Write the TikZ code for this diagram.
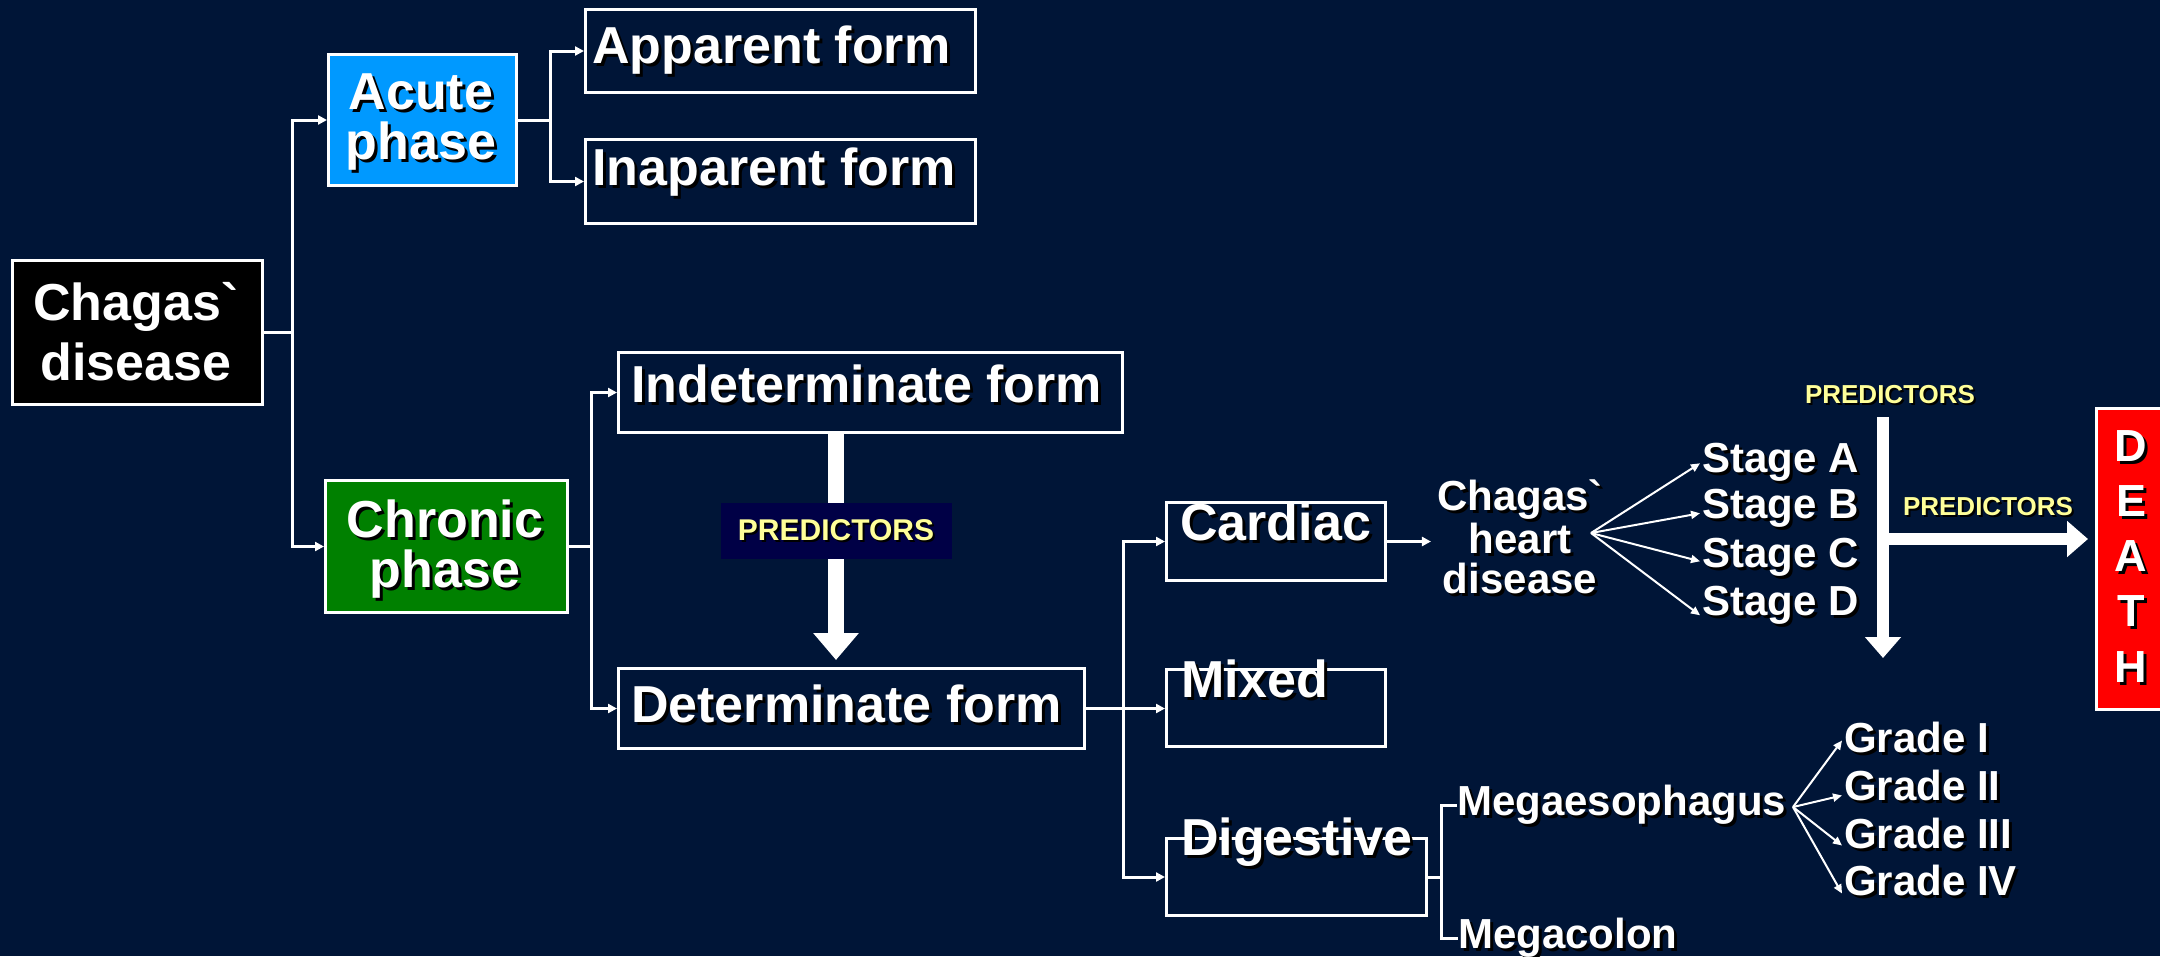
\documentclass[tikz,border=0pt]{standalone}
\usepackage{fontspec}
\newfontfamily\af{Liberation Sans}
\usetikzlibrary{arrows.meta}
\definecolor{bg}{RGB}{0,21,55}
\definecolor{acuteblue}{RGB}{0,153,255}
\definecolor{chrongreen}{RGB}{0,128,0}
\definecolor{predfill}{RGB}{0,0,70}
\definecolor{predyellow}{RGB}{255,255,153}
\definecolor{deathred}{RGB}{255,0,0}
\newcommand\shd[2][3pt]{\makebox[0pt][l]{\hspace{#1}\raisebox{-#1}{\color{black}#2}}#2}
\begin{document}
\begin{tikzpicture}[x=1pt,y=-1pt,
 box/.style={draw=white,line width=3pt,inner sep=0pt,anchor=north west},
 txt/.style={text=white,inner sep=0pt},
 big/.style={txt,font=\af\bfseries\fontsize{52}{50}\selectfont},
 mid/.style={txt,font=\af\bfseries\fontsize{42}{40}\selectfont},
 predtxt/.style={text=predyellow,inner sep=0pt,font=\af\bfseries\fontsize{26}{30}\selectfont},
 conn/.style={draw=white,line width=3pt},
 arr/.style={conn,-{Triangle[length=9pt,width=9pt]}},
 fan/.style={draw=white,line width=2pt,-{Triangle[length=9pt,width=8pt]}},
 fatA/.style={draw=white,line width=16pt,-{Triangle[length=27pt,width=44pt]}},
 fatB/.style={draw=white,line width=12pt,-{Triangle[length=21pt,width=35pt]}}]
\useasboundingbox (0,0) rectangle (2160,956);
\fill[bg] (0,0) rectangle (2160,956);
% boxes
\node[box,fill=black,minimum width=250pt,minimum height=144pt] (chagasbox) at (11,259) {};
\node[box,fill=acuteblue,minimum width=188pt,minimum height=131pt] (acutebox) at (327,53) {};
\node[box,minimum width=390pt,minimum height=83pt] (appbox) at (584,8) {};
\node[box,minimum width=390pt,minimum height=84pt] (inabox) at (584,138) {};
\node[box,fill=chrongreen,minimum width=242pt,minimum height=132pt] (chronbox) at (324,479) {};
\node[box,minimum width=504pt,minimum height=80pt] (indetbox) at (617,351) {};
\node[box,minimum width=466pt,minimum height=80pt] (detbox) at (617,667) {};
\node[box,minimum width=219pt,minimum height=78pt] (cardbox) at (1165,501) {};
\node[box,minimum width=219pt,minimum height=77pt] (mixbox) at (1165,668) {};
\node[box,minimum width=260pt,minimum height=77pt] (digbox) at (1165,837) {};
\node[box,fill=deathred,minimum width=80pt,minimum height=301pt] (deathbox) at (2095,407) {};
% texts
\node[txt,anchor=north,align=center,font=\af\bfseries\fontsize{52}{60}\selectfont] (chagas) at (136,282) {\shd{Chagas`}\\\shd{disease}};
\node[big,anchor=north,align=center] (acute) at (421,74) {\shd{Acute}\\\shd{phase}};
\node[big,anchor=north,align=center] (chronic) at (445,500) {\shd{Chronic}\\\shd{phase}};
\node[big,anchor=base west] (apparent) at (592,63) {\shd{Apparent form}};
\node[big,anchor=base west] (inaparent) at (592,185) {\shd{Inaparent form}};
\node[big,anchor=base west] (indet) at (631,402) {\shd{Indeterminate form}};
\node[big,anchor=base west] (det) at (631,722) {\shd{Determinate form}};
\node[big,anchor=base west] (cardiac) at (1180,540) {\shd{Cardiac}};
\node[big,anchor=base west] (mixed) at (1181,697) {\shd{Mixed}};
\node[big,anchor=base west] (digestive) at (1181,855) {\shd{Digestive}};
\node[txt,anchor=north,align=center,font=\af\bfseries\fontsize{42}{40.5}\selectfont] (heart) at (1520,479) {\shd{Chagas`}\\\shd{heart}\\\shd{disease}};
\node[mid,anchor=base west] (stA) at (1702,472) {\shd{Stage A}};
\node[mid,anchor=base west] (stB) at (1702,518) {\shd{Stage B}};
\node[mid,anchor=base west] (stC) at (1702,567) {\shd{Stage C}};
\node[mid,anchor=base west] (stD) at (1702,615) {\shd{Stage D}};
\node[mid,anchor=base west] (megaeso) at (1457,815) {\shd{Megaesophagus}};
\node[mid,anchor=base west] (megacolon) at (1458,948) {\shd{Megacolon}};
\node[mid,anchor=base west] (grI) at (1844,752) {\shd{Grade I}};
\node[mid,anchor=base west] (grII) at (1844,800) {\shd{Grade II}};
\node[mid,anchor=base west] (grIII) at (1844,848) {\shd{Grade III}};
\node[mid,anchor=base west] (grIV) at (1844,895) {\shd{Grade IV}};
\node[txt,anchor=north,align=center,font=\af\bfseries\fontsize{45}{55.25}\selectfont] (death) at (2131,430) {\shd{D}\\\shd{E}\\\shd{A}\\\shd{T}\\\shd{H}};
\node[predtxt,anchor=base] (ptop) at (1890,403) {\shd[2pt]{PREDICTORS}};
\node[predtxt,anchor=base] (pright) at (1988,515) {\shd[2pt]{PREDICTORS}};
% connectors
\draw[conn] (chagasbox.east) -- ++(28,0) coordinate (j1);
\draw[arr] (j1) |- (acutebox.west);
\draw[arr] (j1) |- (chronbox.west);
\draw[conn] (acutebox.east) -- ++(32,0) coordinate (j2);
\draw[arr] (j2) |- (appbox.west);
\draw[arr] (j2) |- (inabox.west);
\draw[conn] (chronbox.east) -- ++(22,0) coordinate (j3);
\draw[arr] (j3) |- (indetbox.west);
\draw[arr] (j3) |- (detbox.west);
\draw[conn] (detbox.east) -- ++(37,0) coordinate (j4);
\draw[arr] (j4) |- (cardbox.west);
\draw[arr] (j4) -- (j4 -| mixbox.west);
\draw[arr] (j4) |- (digbox.west);
\draw[arr] (cardbox.east) -- ([xshift=-6pt]cardbox.east -| heart.west);
\coordinate (hf) at (1591,533);
\draw[fan] (hf) -- ([xshift=-2pt]stA.west);
\draw[fan] (hf) -- ([xshift=-2pt,yshift=-4pt]stB.west);
\draw[fan] (hf) -- ([xshift=-2pt,yshift=-3pt]stC.west);
\draw[fan] (hf) -- ([xshift=-2pt,yshift=-9pt]stD.west);
\draw[conn] (digbox.east) -- ++(13,0) coordinate (j5);
\draw[conn] (j5) |- (megaeso.west);
\draw[conn] (j5) |- (megacolon.west);
\coordinate (gf) at (1793,807);
\draw[fan] (gf) -- ([xshift=-2pt,yshift=-2pt]grI.west);
\draw[fan] (gf) -- ([xshift=-2pt,yshift=-9pt]grII.west);
\draw[fan] (gf) -- ([xshift=-2pt,yshift=-11pt]grIII.west);
\draw[fan] (gf) -- ([xshift=-2pt,yshift=-12pt]grIV.west);
% thick arrows
\coordinate (pm) at (836,531);
\draw[fatA] (indetbox.south -| pm) -- ([yshift=7pt]detbox.north -| pm);
\node[fill=predfill,minimum width=231pt,minimum height=56pt,inner sep=0pt,text=predyellow,font=\af\bfseries\fontsize{30}{36}\selectfont] (predbox) at (pm) {\shd[2pt]{PREDICTORS}};
\coordinate (vtop) at (1883,417);
\coordinate (vbot) at (1883,658);
\draw[fatB] (vtop) -- (vbot);
\coordinate (hst) at (1883,539);
\draw[fatB] (hst) -- ([xshift=-7pt]hst -| deathbox.west);
\end{tikzpicture}
\end{document}
